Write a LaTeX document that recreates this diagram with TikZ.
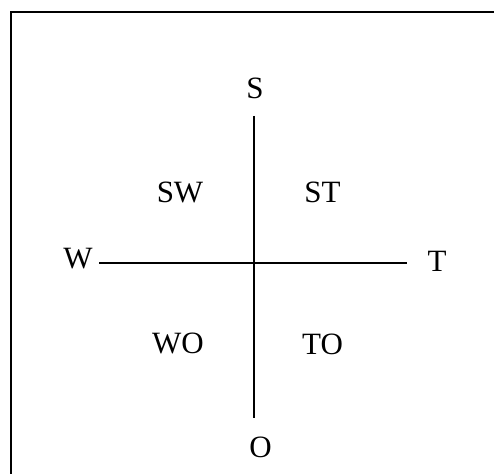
\documentclass[tikz,border=0pt]{standalone}
\usepackage{fontspec}
\setmainfont{Liberation Serif}
\begin{document}
\begin{tikzpicture}[x=1pt,y=-1pt,
  lbl/.style={inner sep=0pt,font=\fontsize{31}{36}\selectfont},
  axis/.style={line width=2pt,black}]
\useasboundingbox (0,0) rectangle (494,473);
\begin{scope}
\clip (0,0) rectangle (494,473);
\draw[line width=2pt] (10.5,12.5) rectangle (520,500);
\end{scope}
\node[lbl] (S) at (255,88.5) {S};
\node[lbl] (W) at (78,258.5) {W};
\node[lbl] (T) at (437,261.5) {T};
\node[lbl] (O) at (260.5,447.5) {O};
\node[lbl] (SW) at (180,192.5) {SW};
\node[lbl] (ST) at (322.5,192.5) {ST};
\node[lbl] (WO) at (178,343.5) {WO};
\node[lbl] (TO) at (322.5,344) {TO};
\coordinate (top) at (254,116);
\coordinate (bot) at (254,418);
\coordinate (lft) at (99,262.5);
\coordinate (rgt) at (407,262.5);
\draw[axis] (top) -- (bot);
\draw[axis] (lft) -- (rgt);
\end{tikzpicture}
\end{document}
